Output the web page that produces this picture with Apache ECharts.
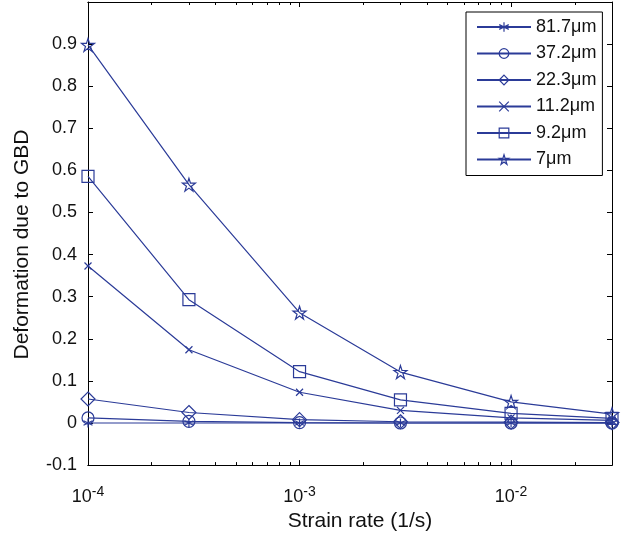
<!DOCTYPE html>
<html><head><meta charset="utf-8">
<script src="https://cdn.jsdelivr.net/npm/echarts@6/dist/echarts.min.js"></script>
<style>html,body{margin:0;padding:0;background:#fff}#c{width:630px;height:537px}</style>
</head><body><div id="c"></div>
<script>
// ---- data ----
var strainRates = [1e-4, 3e-4, 1e-3, 3e-3, 1e-2, 3e-2];
var seriesNames = ['81.7μm', '37.2μm', '22.3μm', '11.2μm', '9.2μm', '7μm'];
var d817 = [0.000, 0.000, 0.000, 0.000, 0.000, 0.000];
var d372 = [0.012, 0.004, 0.001, 0.000, 0.000, 0.000];
var d223 = [0.057, 0.025, 0.008, 0.003, 0.002, 0.001];
var d112 = [0.373, 0.174, 0.073, 0.030, 0.012, 0.006];
var d92  = [0.586, 0.293, 0.122, 0.055, 0.023, 0.011];
var d7   = [0.898, 0.566, 0.262, 0.121, 0.050, 0.021];
var majorXTicks = [1e-4, 1e-3, 1e-2];
var minorXTicks = [2e-4,3e-4,4e-4,5e-4,6e-4,7e-4,8e-4,9e-4,2e-3,3e-3,4e-3,5e-3,6e-3,7e-3,8e-3,9e-3,2e-2];
var yTickLabels = ['-0.1','0','0.1','0.2','0.3','0.4','0.5','0.6','0.7','0.8','0.9'];

var BLUE = '#2b3b98';
var FONT = 'Liberation Sans';
var symAsterisk = 'path://M0,-1L0,1M-0.87,-0.5L0.87,0.5M-0.87,0.5L0.87,-0.5';
var symX = 'path://M-1,-1L1,1M-1,1L1,-1';
var symStar = 'path://M0,-1L0.2245,-0.309L0.951,-0.309L0.363,0.118L0.588,0.809L0,0.382L-0.588,0.809L-0.363,0.118L-0.951,-0.309L-0.2245,-0.309Z';

var allData = [d817, d372, d223, d112, d92, d7];
var symbols = [symAsterisk, 'circle', 'diamond', symX, 'rect', symStar];
var sizes = [9, 12, 14, 7, 12, 13];

var hollow = { color: 'transparent', borderColor: BLUE, borderWidth: 1.2 };

var series = allData.map(function (arr, i) {
  return {
    name: seriesNames[i], type: 'line', xAxisIndex: 0, yAxisIndex: 0,
    data: strainRates.map(function (x, k) { return [x, arr[k]]; }),
    symbol: symbols[i], symbolSize: sizes[i], showSymbol: true,
    lineStyle: { color: BLUE, width: 1.2 },
    itemStyle: hollow,
    emphasis: { disabled: true }, z: 3 + i
  };
});

function logAxis(pos, custom, len, showLabel) {
  return {
    type: 'log', logBase: 10, min: 1e-4, max: 3e-2, position: pos,
    axisLine: { show: true, onZero: false, lineStyle: { color: '#000', width: 1 } },
    axisTick: { show: true, inside: true, length: len, customValues: custom, lineStyle: { color: '#000' } },
    axisLabel: showLabel ? {
      show: true, customValues: majorXTicks, margin: 20,
      fontFamily: FONT, fontSize: 18, color: '#111',
      formatter: function (v) { return '10{sup|' + Math.round(Math.log10(v)) + '}'; },
      rich: { sup: { fontSize: 14, fontFamily: FONT, color: '#111', verticalAlign: 'top', padding: [0, 0, 10, 0] } }
    } : { show: false },
    splitLine: { show: false }
  };
}

var xAxes = [
  Object.assign(logAxis('bottom', majorXTicks, 5, true), {
    name: 'Strain rate (1/s)', nameLocation: 'middle', nameGap: 44,
    nameTextStyle: { fontFamily: FONT, fontSize: 21, color: '#111', padding: [0, 0, 0, 20] }
  }),
  logAxis('bottom', minorXTicks, 3, false),
  logAxis('top', majorXTicks, 5, false),
  logAxis('top', minorXTicks, 3, false)
];

function yAx(pos, showLabel) {
  return {
    type: 'value', min: -0.1, max: 1, interval: 0.1, position: pos,
    axisLine: { show: true, onZero: false, lineStyle: { color: '#000', width: 1 } },
    axisTick: { show: true, inside: true, length: 5, lineStyle: { color: '#000' } },
    axisLabel: showLabel ? {
      show: true, margin: 11, fontFamily: FONT, fontSize: 18, color: '#111',
      formatter: function (v) {
        var idx = Math.round(v * 10) + 1;
        return idx >= 0 && idx < yTickLabels.length ? yTickLabels[idx] : '';
      }
    } : { show: false },
    splitLine: { show: false }
  };
}

var yAxes = [
  Object.assign(yAx('left', true), {
    name: 'Deformation due to GBD', nameLocation: 'middle', nameGap: 55,
    nameTextStyle: { fontFamily: FONT, fontSize: 21, color: '#111', padding: [0, 22, 0, 0] }
  }),
  yAx('right', false)
];

var chart = echarts.init(document.getElementById('c'), null, { renderer: 'canvas' });
chart.setOption({
  animation: false,
  backgroundColor: '#fff',
  grid: { left: 88, right: 18, top: 2, bottom: 69, containLabel: false },
  xAxis: xAxes,
  yAxis: yAxes,
  legend: {
    orient: 'vertical', left: 466, top: 12,
    backgroundColor: '#fff', borderColor: '#000', borderWidth: 1,
    padding: [6, 6, 7, 10], itemWidth: 54, itemHeight: 12, itemGap: 8.5,
    itemStyle: hollow,
    textStyle: { fontFamily: FONT, fontSize: 18, color: '#111' },
    data: seriesNames.map(function (n) { return { name: n, itemStyle: hollow }; })
  },
  series: series
});
</script>
</body></html>
